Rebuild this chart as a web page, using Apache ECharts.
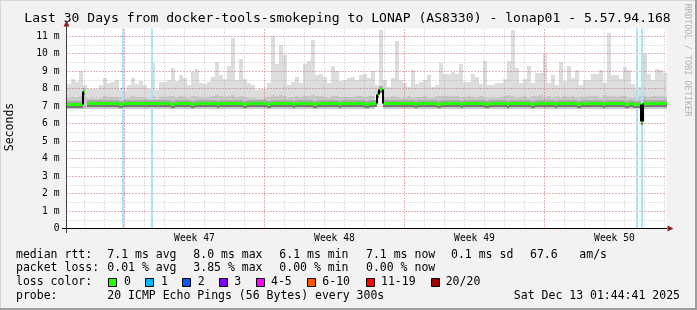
<!DOCTYPE html>
<html><head><meta charset="utf-8">
<script src="https://cdn.jsdelivr.net/npm/echarts@6/dist/echarts.min.js"></script>
<style>html,body{margin:0;padding:0;background:#f2f2f2}#c{width:697px;height:310px}</style>
</head><body><div id="c"></div>
<script>
// ---------------- DATA ----------------
const titleText = 'Last 30 Days from docker-tools-smokeping to LONAP (AS8330) - lonap01 - 5.57.94.168';
// x values are days relative to Monday 00:00 of Week 47
const xStartDay = -2.9, xEndDay = 27.1;
const smokeStep = 0.2;   // days per smoke sample
const medianStep = 0.1;  // days per median sample
const yMaxMs = 11.4286;
const weekLabelDays = [3.5, 10.5, 17.5, 24.5];
const weekLabels = ['Week 47', 'Week 48', 'Week 49', 'Week 50'];
const dayGridDays = [-2,-1,0,1,2,3,4,5,6,7,8,9,10,11,12,13,14,15,16,17,18,19,20,21,22,23,24,25,26,27];
const weekGridDays = [0, 7, 14, 21];
const lossDays = [-0.085, 1.35, 25.6, 25.835];

// top of the smoke (ms), one value per 0.2 day
const smokeTop = [
 8.28,8.52,8.4,9.0,8.2,7.95,8.0,7.95,8.2,8.6,
 8.3,8.37,8.47,8.0,7.85,8.2,8.6,8.25,8.45,8.2,
 8.0,9.45,7.9,8.35,8.4,8.5,9.15,8.45,8.75,8.6,
 8.2,8.95,9.1,8.3,8.25,8.4,8.65,9.5,8.8,8.55,
 9.3,10.9,8.5,9.7,8.55,8.3,8.2,7.9,8.0,8.0,
 8.3,11.0,9.4,10.5,9.9,8.2,8.35,8.65,8.3,9.4,
 9.6,10.8,8.75,8.85,8.65,8.3,9.3,9.0,8.45,8.5,
 8.6,8.65,8.5,8.76,8.85,8.6,9.0,8.2,11.33,8.47,
 8.1,8.6,10.7,8.47,8.3,8.1,9.05,8.28,8.4,8.5,
 8.76,8.1,8.18,9.45,8.85,8.85,8.95,8.85,9.4,8.4,
 8.4,8.85,8.65,8.28,9.6,8.2,8.2,8.3,8.3,8.55,
 9.6,11.35,9.2,8.3,8.55,9.3,8.3,8.9,8.9,10.0,
 8.3,8.76,8.2,9.5,8.45,9.3,8.6,9.04,8.2,8.47,
 8.47,8.85,8.85,9.04,8.3,11.2,8.8,8.76,8.56,9.23,
 9.04,8.28,8.1,8.09,10.0,8.85,8.47,9.14,9.04,8.9
];
// bottom of the smoke (ms)
const smokeBottom = [
 6.85,6.85,6.85,6.85,6.85,6.85,6.85,6.85,6.85,6.85,
 6.85,6.85,6.85,6.85,6.85,6.85,6.85,6.85,6.85,6.85,
 6.85,6.85,6.85,6.85,6.85,6.85,6.85,6.85,6.85,6.85,
 6.85,6.85,6.85,6.85,6.85,6.85,6.85,6.85,6.85,6.85,
 6.85,6.85,6.85,6.85,6.85,6.85,6.85,6.85,6.85,6.85,
 6.85,6.85,6.85,6.85,6.85,6.85,6.85,6.85,6.85,6.85,
 6.85,6.85,6.85,6.85,6.85,6.85,6.85,6.85,6.85,6.85,
 6.85,6.85,6.85,6.85,6.85,6.85,6.85,7.7,7.98,6.85,
 6.85,6.85,6.85,6.85,6.85,6.85,6.85,6.85,6.85,6.85,
 6.85,6.85,6.85,6.85,6.85,6.85,6.85,6.85,6.85,6.85,
 6.85,6.85,6.85,6.85,6.85,6.85,6.85,6.85,6.85,6.85,
 6.85,6.85,6.85,6.85,6.85,6.85,6.85,6.85,6.85,6.85,
 6.85,6.85,6.85,6.85,6.85,6.85,6.85,6.85,6.85,6.85,
 6.85,6.85,6.85,6.85,6.85,6.85,6.85,6.85,6.85,6.85,
 6.85,6.85,6.85,6.85,6.85,6.85,6.85,6.85,6.85,6.85
];
// top of the dense part of the smoke (ms)
const smokeDenseTop = [
 7.45,7.5,7.48,7.55,7.5,7.42,7.45,7.4,7.48,7.55,
 7.5,7.5,7.52,7.45,7.4,7.48,7.55,7.5,7.5,7.45,
 7.42,7.6,7.4,7.5,7.52,7.55,7.6,7.5,7.55,7.52,
 7.45,7.58,7.6,7.5,7.48,7.5,7.55,7.62,7.55,7.5,
 7.6,7.65,7.5,7.6,7.52,7.48,7.45,7.4,7.42,7.45,
 7.5,7.62,7.6,7.65,7.6,7.48,7.5,7.55,7.5,7.58,
 7.6,7.65,7.55,7.55,7.52,7.48,7.6,7.55,7.5,7.5,
 7.52,7.5,7.55,7.55,7.5,7.58,7.55,7.7,7.98,7.45,
 7.5,7.6,7.5,7.48,7.45,7.55,7.48,7.5,7.5,7.55,
 7.45,7.45,7.6,7.55,7.55,7.58,7.55,7.6,7.5,7.5,
 7.55,7.52,7.48,7.6,7.45,7.45,7.48,7.48,7.52,7.6,
 7.65,7.6,7.48,7.52,7.55,7.48,7.55,7.55,7.62,7.48,
 7.55,7.45,7.6,7.5,7.55,7.52,7.58,7.45,7.5,7.5,
 7.55,7.55,7.58,7.48,7.65,7.55,7.55,7.52,7.6,7.58,
 7.48,7.45,7.45,7.6,7.55,7.5,7.58,7.58,7.55,7.5
];
// median rtt (ms), one value per 0.1 day
const medianRtt = [
 7.12,7.12,7.12,7.12,7.12,7.12,7.12,7.12,7.85,null,7.15,7.15,7.18,7.18,7.18,7.18,7.15,7.15,7.15,7.18,
 7.18,7.18,7.15,7.15,7.15,7.15,7.12,7.12,7.15,7.15,7.15,7.15,7.15,7.18,7.18,7.15,7.15,7.15,7.15,7.15,
 7.15,7.15,7.15,7.15,7.15,7.15,7.18,7.18,7.15,7.15,7.15,7.15,7.12,7.12,7.15,7.15,7.15,7.18,7.15,7.15,
 7.15,7.15,7.12,7.12,7.15,7.15,7.15,7.15,7.18,7.18,7.15,7.15,7.15,7.15,7.15,7.12,7.15,7.15,7.15,7.15,
 7.15,7.18,7.18,7.15,7.15,7.15,7.15,7.15,7.12,7.12,7.15,7.15,7.15,7.15,7.18,7.15,7.15,7.15,7.15,7.15,
 7.12,7.12,7.15,7.15,7.15,7.15,7.15,7.18,7.18,7.15,7.15,7.15,7.15,7.12,7.15,7.15,7.15,7.15,7.18,7.15,
 7.15,7.15,7.15,7.12,7.12,7.15,7.15,7.15,7.15,7.15,7.18,7.18,7.15,7.15,7.15,7.15,7.12,7.15,7.15,7.15,
 7.15,7.15,7.15,7.18,7.15,7.15,7.15,7.15,7.15,7.12,7.12,7.15,7.15,7.15,7.15,7.7,7.98,8.0,7.15,7.15,
 7.18,7.18,7.18,7.15,7.15,7.15,7.15,7.15,7.18,7.18,7.15,7.15,7.15,7.15,7.12,7.15,7.15,7.15,7.15,7.18,
 7.18,7.15,7.15,7.15,7.15,7.12,7.12,7.15,7.15,7.15,7.15,7.18,7.15,7.15,7.15,7.15,7.15,7.12,7.15,7.15,
 7.15,7.15,7.18,7.18,7.15,7.15,7.15,7.15,7.15,7.12,7.12,7.15,7.15,7.15,7.18,7.15,7.15,7.15,7.15,7.15,
 7.12,7.15,7.15,7.15,7.18,7.18,7.15,7.15,7.15,7.15,7.15,7.15,7.12,7.12,7.15,7.15,7.15,7.15,7.18,7.15,
 7.15,7.15,7.15,7.15,7.12,7.15,7.15,7.15,7.18,7.18,7.15,7.15,7.15,7.15,7.15,7.12,7.12,7.15,7.15,7.15,
 7.15,7.18,7.15,7.15,7.15,7.15,7.15,7.15,7.12,7.15,7.15,7.15,7.18,7.18,7.15,7.15,7.15,7.15,7.15,7.12,
 7.12,7.15,7.15,7.12,7.12,7.1,7.1,6.13,7.15,7.15,7.18,7.18,7.18,7.15,7.15,7.15,7.15,7.15,7.15,7.15
];

const rttLabel = 'median rtt:';
const rttStats = ['7.1 ms avg', '8.0 ms max', '6.1 ms min', '7.1 ms now', '0.1 ms sd', '67.6', 'am/s'];
const lossLabel = 'packet loss:';
const lossStats = ['0.01 % avg', '3.85 % max', '0.00 % min', '0.00 % now'];
const lossColorLabel = 'loss color:';
const lossBucketLabels = ['0', '1', '2', '3', '4-5', '6-10', '11-19', '20/20'];
const lossBucketColors = ['#26ff00', '#00b8ff', '#0059ff', '#7e00ff', '#ff00ff', '#ff5500', '#ff0000', '#a10000'];
const probeLabel = 'probe:';
const probeText = '20 ICMP Echo Pings (56 Bytes) every 300s';
const dateText = 'Sat Dec 13 01:44:41 2025';
const yAxisName = 'Seconds';
const watermark = 'RRDTOOL / TOBI OETIKER';

// ---------------- CHART ----------------
const MONO = '"DejaVu Sans Mono", monospace';
const chart = echarts.init(document.getElementById('c'), null, {renderer: 'canvas'});

function bandSeries(name, lowArr, highArr, color, z) {
  const data = lowArr.map((lo, i) => [xStartDay + i * smokeStep, xStartDay + (i + 1) * smokeStep, lo, highArr[i]]);
  return {
    name, type: 'custom', z, silent: true, clip: true,
    encode: {x: [0, 1], y: [2, 3]},
    renderItem(params, api) {
      const a = api.coord([api.value(0), api.value(3)]);
      const b = api.coord([api.value(1), api.value(2)]);
      const x0 = Math.round(a[0]), x1 = Math.round(b[0]);
      const y0 = Math.round(a[1]), y1 = Math.round(b[1]);
      if (y1 - y0 <= 0) return null;
      return {type: 'rect', shape: {x: x0, y: y0, width: x1 - x0, height: y1 - y0}, style: {fill: color}};
    },
    data
  };
}

const medData = [];
medianRtt.forEach((v, j) => {
  if (v == null) return;
  const prev = medianRtt[j - 1];
  medData.push([xStartDay + j * medianStep, xStartDay + (j + 1) * medianStep, v, prev == null ? v : prev]);
});

const medianSeries = {
  name: 'median', type: 'custom', z: 5, silent: true, clip: true,
  encode: {x: [0, 1], y: [2, 3]},
  renderItem(params, api) {
    const v = api.value(2), pv = api.value(3);
    const a = api.coord([api.value(0), v]);
    const b = api.coord([api.value(1), v]);
    const p = api.coord([api.value(0), pv]);
    const x0 = Math.round(a[0]), x1 = Math.round(b[0]);
    const y = Math.round(a[1]) + 0.5;
    const children = [
      {type: 'line', shape: {x1: x0, y1: y - 2.5, x2: x1, y2: y - 2.5}, style: {stroke: '#a8a8a8', lineWidth: 2}},
      {type: 'line', shape: {x1: x0, y1: y + 2.5, x2: x1, y2: y + 2.5}, style: {stroke: '#767676', lineWidth: 2}},
      {type: 'line', shape: {x1: x0, y1: y, x2: x1, y2: y}, style: {stroke: '#26ff00', lineWidth: 3}}
    ];
    if (Math.abs(v - pv) > 0.2) {
      children.push({type: 'line', shape: {x1: x0, y1: Math.round(p[1]) + 0.5, x2: x0, y2: y}, style: {stroke: '#000', lineWidth: 2}});
    }
    return {type: 'group', children};
  },
  data: medData
};

function vLines(name, days, color, width, dash, z) {
  return {
    name, type: 'line', z, data: [], silent: true,
    markLine: {
      silent: true, symbol: ['none', 'none'], label: {show: false}, animation: false,
      lineStyle: {color, width, type: dash},
      emphasis: {disabled: true},
      data: days.map(d => ({xAxis: d}))
    }
  };
}

const graphics = [];
// frame
graphics.push({type: 'rect', shape: {x: 0, y: 0, width: 697, height: 1}, style: {fill: '#d6d6d6'}, silent: true});
graphics.push({type: 'rect', shape: {x: 0, y: 0, width: 1, height: 310}, style: {fill: '#d6d6d6'}, silent: true});
graphics.push({type: 'rect', shape: {x: 695, y: 0, width: 2, height: 310}, style: {fill: '#9e9e9e'}, silent: true});
graphics.push({type: 'rect', shape: {x: 0, y: 308, width: 697, height: 2}, style: {fill: '#9e9e9e'}, silent: true});
// title
graphics.push({type: 'text', x: 347.5, y: 19, silent: true,
  style: {text: titleText, font: '13.1px ' + MONO, fill: '#000', textAlign: 'center', textVerticalAlign: 'middle'}});
// axis name
graphics.push({type: 'text', x: 10.5, y: 127, rotation: Math.PI / 2, silent: true,
  style: {text: yAxisName, font: '11.5px ' + MONO, fill: '#000', textAlign: 'center', textVerticalAlign: 'middle'}});
// watermark
graphics.push({type: 'text', x: 687.5, y: 60, rotation: -Math.PI / 2, silent: true,
  style: {text: watermark, font: '8.5px ' + MONO, fill: '#b4b4b4', textAlign: 'center', textVerticalAlign: 'middle'}});
// axis arrows and extensions
graphics.push({type: 'line', shape: {x1: 62, y1: 228.5, x2: 667, y2: 228.5}, style: {stroke: '#000', lineWidth: 1}, silent: true, z: 10});
graphics.push({type: 'line', shape: {x1: 66.5, y1: 233, x2: 66.5, y2: 26}, style: {stroke: '#404040', lineWidth: 1}, silent: true, z: 10});
graphics.push({type: 'polygon', shape: {points: [[63.5, 26.5], [69.5, 26.5], [66.5, 20.5]]}, style: {fill: '#8f1c1c'}, silent: true, z: 10});
graphics.push({type: 'polygon', shape: {points: [[667.5, 225.5], [667.5, 231.5], [673.5, 228.5]]}, style: {fill: '#8f1c1c'}, silent: true, z: 10});

// legend rows
const rowY = [254.8, 268.4, 282, 295.6];
const statX = [107.3, 193.3, 279.3, 366, 451, 530, 579.3];
function txt(t, x, y, align) {
  graphics.push({type: 'text', x, y, silent: true,
    style: {text: t, font: '11.5px ' + MONO, fill: '#000', textAlign: align || 'left', textVerticalAlign: 'middle'}});
}
txt(rttLabel, 16, rowY[0]);
rttStats.forEach((s, i) => txt(s, statX[i], rowY[0]));
txt(lossLabel, 16, rowY[1]);
lossStats.forEach((s, i) => txt(s, statX[i], rowY[1]));
txt(lossColorLabel, 16, rowY[2]);
const boxX = [108.5, 145.5, 182.5, 219.5, 256.5, 307.5, 366.5, 431.5];
const boxLabelX = [124, 161, 197.7, 234.3, 271, 322.3, 381, 445.7];
lossBucketLabels.forEach((lab, i) => {
  graphics.push({type: 'rect', shape: {x: boxX[i], y: 278.5, width: 8, height: 8}, silent: true,
    style: {fill: lossBucketColors[i], stroke: '#000', lineWidth: 1}});
  txt(lab, boxLabelX[i], rowY[2]);
});
txt(probeLabel, 16, rowY[3]);
txt(probeText, 107.3, rowY[3]);
txt(dateText, 680, rowY[3], 'right');

const option = {
  backgroundColor: '#f2f2f2',
  animation: false,
  grid: {left: 66.5, right: 30.5, top: 28.5, bottom: 81.5, show: true, backgroundColor: '#ffffff', borderWidth: 0},
  xAxis: [{
    type: 'value', min: xStartDay, max: xEndDay, z: 4,
    axisLine: {show: false},
    axisTick: {show: false},
    splitLine: {show: false},
    axisLabel: {
      customValues: weekLabelDays,
      formatter: v => weekLabels[weekLabelDays.findIndex(d => Math.abs(d - v) < 1e-6)] || '',
      fontFamily: 'DejaVu Sans Mono', fontSize: 9.7, color: '#000', margin: 5
    }
  }],
  yAxis: [{
    type: 'value', min: 0, max: yMaxMs, interval: 1, z: 4,
    axisLine: {show: false},
    axisTick: {show: true, length: 3, lineStyle: {color: '#404040'}},
    axisLabel: {
      formatter: v => v === 0 ? '0' : v + ' m', showMaxLabel: false,
      fontFamily: 'DejaVu Sans Mono', fontSize: 9.7, color: '#000', margin: 7
    },
    splitLine: {show: true, showMinLine: false, showMaxLine: false, lineStyle: {color: 'rgba(240,60,60,0.55)', width: 1, type: [1, 2]}}
  }, {
    type: 'value', min: 0, max: yMaxMs, interval: 0.5, z: 3,
    axisLine: {show: false}, axisTick: {show: false}, axisLabel: {show: false},
    splitLine: {show: true, showMinLine: false, showMaxLine: false, lineStyle: {color: 'rgba(140,140,140,0.5)', width: 1, type: [1, 2]}}
  }],
  series: [
    bandSeries('smoke', smokeBottom, smokeTop, '#dddddd', 2),
    bandSeries('smokeDense', smokeBottom, smokeDenseTop, '#c8c8c8', 2),
    vLines('dayGrid', dayGridDays, 'rgba(140,140,140,0.5)', 1, [1, 2], 3),
    vLines('weekGrid', weekGridDays, 'rgba(240,60,60,0.55)', 1, [1, 2], 3),
    medianSeries,
    vLines('loss', lossDays, '#a9e4fa', 2, 'solid', 6)
  ],
  graphic: {elements: graphics}
};
chart.setOption(option);
</script>
</body></html>
